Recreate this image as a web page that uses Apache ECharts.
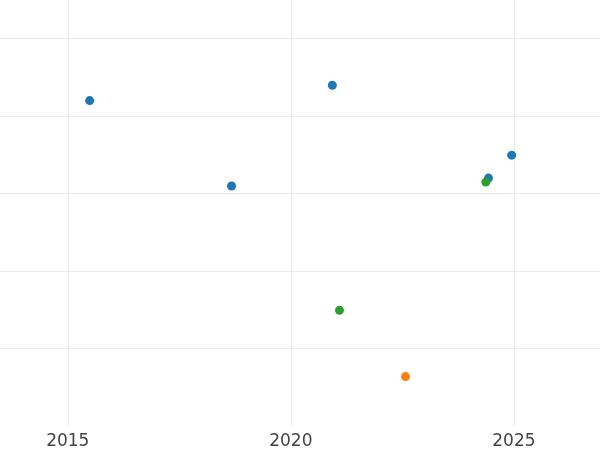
<!DOCTYPE html>
<html>
<head>
<meta charset="utf-8">
<script src="https://cdn.jsdelivr.net/npm/echarts@6/dist/echarts.min.js"></script>
<style>html,body{margin:0;padding:0;background:#fff;}#c{width:600px;height:450px;}</style>
</head>
<body>
<div id="c"></div>
<script>
// Data
const blueX = [2015.49, 2018.67, 2020.93, 2024.43, 2024.95];
const blueY = [4.201, 3.098, 4.400, 3.201, 3.497];
const orangeX = [2022.57];
const orangeY = [0.638];
const greenX = [2021.09, 2024.37];
const greenY = [1.493, 3.149];
const xTickLabels = [2015, 2020, 2025];

function pairs(xs, ys) { return xs.map((x, i) => [x, ys[i]]); }

const chart = echarts.init(document.getElementById('c'), null, {renderer: 'canvas'});
const grid = '#ebebeb';
chart.setOption({
  animation: false,
  backgroundColor: '#ffffff',
  grid: {left: 0, right: 0, top: 0, bottom: 23.5, containLabel: false},
  xAxis: {
    type: 'value',
    min: 2013.48,
    max: 2026.93,
    splitNumber: 3,
    axisLine: {show: false},
    axisTick: {show: false},
    axisLabel: {
      show: true, margin: 7, color: '#444444', fontSize: 17,
      fontFamily: 'DejaVu Sans',
      showMinLabel: false, showMaxLabel: false,
      formatter: v => xTickLabels.includes(Math.round(v * 1000) / 1000) ? String(v) : ''
    },
    splitLine: {show: true, showMinLine: false, showMaxLine: false, lineStyle: {color: grid, width: 1}}
  },
  yAxis: {
    type: 'value',
    min: 0,
    max: 5.5,
    interval: 1,
    axisLine: {show: false},
    axisTick: {show: false},
    axisLabel: {show: false},
    splitLine: {show: true, showMinLine: false, showMaxLine: false, lineStyle: {color: grid, width: 1}}
  },
  series: [
    {type: 'scatter', data: pairs(blueX, blueY), symbolSize: 9, itemStyle: {color: '#1f77b4', opacity: 1}},
    {type: 'scatter', data: pairs(orangeX, orangeY), symbolSize: 9, itemStyle: {color: '#ff7f0e', opacity: 1}},
    {type: 'scatter', data: pairs(greenX, greenY), symbolSize: 9, itemStyle: {color: '#2ca02c', opacity: 1}}
  ]
});
</script>
</body>
</html>
